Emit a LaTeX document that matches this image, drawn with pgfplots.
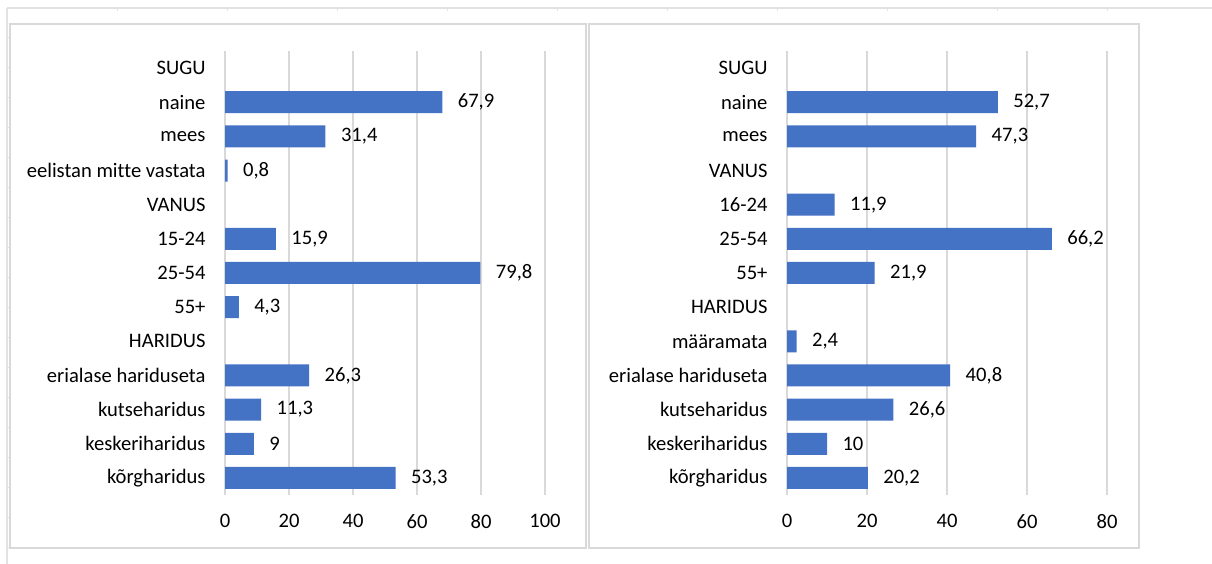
\documentclass[border=0pt]{standalone}
\usepackage{pgfplots}
\pgfplotsset{compat=1.18}
\usepackage{fontspec}
\setmainfont{Carlito}[Ligatures=NoCommon]
\definecolor{barblue}{HTML}{4472C4}
\definecolor{gridgray}{HTML}{D9D9D9}
\definecolor{sheetgray}{HTML}{E2E2E2}
\pgfplotsset{mybar/.style={
  xbar, scale only axis, anchor=south west,
  width=320bp, height=444bp, bar width=22bp,
  y dir=reverse, ymin=-0.5, ymax=12.5, ytick={0,...,12},
  xmin=0, xmajorgrids, grid style={gridgray, line width=1.5bp},
  axis line style={draw=none}, major tick length=0pt,
  tick style={draw=none},
  font=\fontsize{20.6bp}{24bp}\selectfont,
  /pgf/number format/assume math mode=true,
  /pgf/number format/use comma,
  /pgf/number format/1000 sep={},
  yticklabel style={xshift=-16bp},
  xticklabel style={yshift=-16bp},
  nodes near coords,
  nodes near coords style={anchor=west, xshift=12bp, text=black},
  clip=false,
}}
\begin{document}
\begin{tikzpicture}[x=1bp,y=1bp]
\path[use as bounding box] (0,0) rectangle (1212,564);
% spreadsheet grid
\draw[sheetgray, line width=1.5bp] (7,556) -- (1212,556);
\draw[sheetgray, line width=1.5bp] (7,556) -- (7,0);
\foreach \xx in {117,227,337,447,557,667,777,887,997,1107}
  \draw[sheetgray, line width=1bp] (\xx,556) -- (\xx,553);
\foreach \yy in {38,68,98,128,158,188,218,248,278,308,338,368,398,428,458,488,518,548}
  \draw[sheetgray, line width=1bp] (7,564-\yy) -- (10,564-\yy);
% chart frames
\draw[gridgray, line width=2.5bp, fill=white] (10,16) rectangle (586,540);
\draw[gridgray, line width=2.5bp, fill=white] (589,16) rectangle (1139,540);

\begin{axis}[mybar, at={(225bp,69bp)}, xmax=100, xtick={0,20,...,100},
  yticklabels={SUGU, naine, mees, eelistan mitte vastata, VANUS, 15-24, 25-54, 55+, HARIDUS, erialase hariduseta, kutseharidus, keskeriharidus, kõrgharidus}]
\addplot[fill=barblue, draw=none] coordinates {(67.9,1) (31.4,2) (0.8,3) (15.9,5) (79.8,6) (4.3,7) (26.3,9) (11.3,10) (9,11) (53.3,12)};
\end{axis}

\begin{axis}[mybar, at={(787bp,69bp)}, xmax=80, xtick={0,20,...,80},
  yticklabels={SUGU, naine, mees, VANUS, 16-24, 25-54, 55+, HARIDUS, määramata, erialase hariduseta, kutseharidus, keskeriharidus, kõrgharidus}]
\addplot[fill=barblue, draw=none] coordinates {(52.7,1) (47.3,2) (11.9,4) (66.2,5) (21.9,6) (2.4,8) (40.8,9) (26.6,10) (10,11) (20.2,12)};
\end{axis}
\end{tikzpicture}
\end{document}
